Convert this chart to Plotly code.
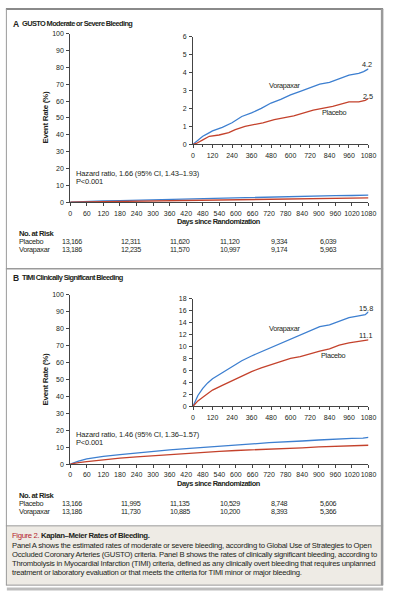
import plotly.graph_objects as go

W, H = 395, 600
def px(x): return x / W
def py(y): return 1 - y / H

FONT = "Liberation Sans, Arial, sans-serif"
BLUE = "#3d7fd0"
RED = "#c4422c"
TXT = "#231f20"

# ---------------- data ----------------
gusto_days = [0, 30, 60, 90, 120, 180, 240, 300, 360, 420, 480, 540, 600, 660, 720, 780, 840, 900, 960, 1020, 1050, 1080]
gusto_vorapaxar = [0, 0.25, 0.45, 0.6, 0.75, 0.95, 1.2, 1.55, 1.75, 2.0, 2.3, 2.5, 2.75, 2.95, 3.15, 3.35, 3.45, 3.65, 3.85, 3.95, 4.05, 4.2]
gusto_placebo_days = [0, 20, 60, 100, 160, 220, 260, 320, 430, 500, 620, 740, 860, 960, 1020, 1060, 1080]
gusto_placebo = [0, 0.05, 0.25, 0.45, 0.52, 0.65, 0.82, 1.0, 1.2, 1.38, 1.58, 1.9, 2.12, 2.36, 2.37, 2.45, 2.55]

timi_days = [0, 15, 30, 60, 90, 120, 180, 240, 300, 360, 420, 480, 540, 600, 660, 720, 780, 840, 900, 960, 1020, 1060, 1080]
timi_vorapaxar = [0, 1.0, 1.8, 3.0, 3.9, 4.6, 5.6, 6.6, 7.6, 8.4, 9.1, 9.9, 10.6, 11.3, 11.9, 12.6, 13.3, 13.6, 14.2, 14.8, 15.1, 15.3, 15.8]
timi_placebo = [0, 0.5, 0.9, 1.5, 2.1, 2.7, 3.5, 4.3, 5.0, 5.8, 6.4, 6.9, 7.5, 8.0, 8.3, 8.8, 9.2, 9.6, 10.2, 10.6, 10.8, 10.95, 11.1]

gusto_end_labels = ["4.2", "2.5"]
timi_end_labels = ["15.8", "11.1"]

risk_placebo_a = ["13,166", "12,311", "11,620", "11,120", "9,334", "6,039"]
risk_vorapaxar_a = ["13,186", "12,235", "11,570", "10,997", "9,174", "5,963"]
risk_placebo_b = ["13,166", "11,995", "11,135", "10,529", "8,748", "5,606"]
risk_vorapaxar_b = ["13,186", "11,730", "10,885", "10,200", "8,393", "5,366"]

main_xticks = list(range(0, 1081, 60))
inset_xticks = list(range(0, 1081, 120))

fig = go.Figure()

X0, X1 = 70, 376
IX0 = 196

def add_lines(xa, ya, dv, v, dp, p):
    fig.add_trace(go.Scatter(x=dv, y=v, mode="lines", line=dict(color=BLUE, width=1.3),
                             xaxis=xa, yaxis=ya, showlegend=False, hoverinfo="skip"))
    fig.add_trace(go.Scatter(x=dp, y=p, mode="lines", line=dict(color=RED, width=1.3),
                             xaxis=xa, yaxis=ya, showlegend=False, hoverinfo="skip"))

add_lines("x", "y", gusto_days, gusto_vorapaxar, gusto_placebo_days, gusto_placebo)
add_lines("x2", "y2", gusto_days, gusto_vorapaxar, gusto_placebo_days, gusto_placebo)
add_lines("x3", "y3", timi_days, timi_vorapaxar, timi_days, timi_placebo)
add_lines("x4", "y4", timi_days, timi_vorapaxar, timi_days, timi_placebo)

axis_common = dict(showline=True, linecolor="#444", linewidth=1, ticks="outside", ticklen=3,
                   tickcolor="#444", tickwidth=1, showgrid=False, zeroline=False,
                   tickfont=dict(family=FONT, size=7, color=TXT), fixedrange=True)

layout = dict(
    width=W, height=H, margin=dict(l=0, r=0, t=0, b=0),
    paper_bgcolor="white", plot_bgcolor="rgba(0,0,0,0)",
    font=dict(family=FONT, color=TXT),
)

def setaxes(n, ptop, pbot, xticks, yr, dy, xlo):
    sx = "xaxis" if n == 1 else f"xaxis{n}"
    sy = "yaxis" if n == 1 else f"yaxis{n}"
    ax = f"x{'' if n == 1 else n}"
    ay = f"y{'' if n == 1 else n}"
    layout[sx] = dict(axis_common, domain=[px(xlo), px(X1)], range=[0, 1080], tickvals=xticks,
                      anchor=ay, tickangle=0, ticklabelstandoff=1)
    if len(xticks) < 12:
        layout[sx]["minor"] = dict(tickvals=list(range(60, 1080, 120)), ticks="outside", ticklen=2, tickcolor="#444")
    layout[sy] = dict(axis_common, domain=[py(pbot), py(ptop)], range=[0, yr], dtick=dy,
                      anchor=ax, ticklabelstandoff=1)

setaxes(1, 30, 200.5, main_xticks, 100, 10, X0)
setaxes(2, 33, 142, inset_xticks, 6, 1, IX0)
setaxes(3, 294, 465.5, main_xticks, 100, 10, X0)
setaxes(4, 298, 407, inset_xticks, 18, 2, IX0)

fig.update_layout(**layout)

ann = []
def text(x, y, s, size=8, xanchor="left", bold=False, color=TXT, angle=0, ref=None, ls=0.0):
    t = f"<b>{s}</b>" if bold else s
    if ls:
        t = f"<span style='letter-spacing:{ls}px'>{t}</span>"
    d = dict(text=t, showarrow=False, borderpad=0, borderwidth=0,
             font=dict(family=FONT, size=size, color=color), xanchor=xanchor, yanchor="middle",
             textangle=angle)
    if ref:
        d.update(xref=ref[0], yref=ref[1], x=x, y=y)
    else:
        d.update(xref="paper", yref="paper", x=px(x), y=py(y))
    ann.append(d)

# panel titles
text(11, 20, "A", size=8.5, bold=True)
text(21, 20, "GUSTO Moderate or Severe Bleeding", size=7.4, bold=True, ls=-0.6)
text(11, 277, "B", size=8.5, bold=True)
text(21, 277, "TIMI Clinically Significant Bleeding", size=7.4, bold=True, ls=-0.6)

# y titles
text(45, 115, "Event Rate (%)", size=8, bold=True, xanchor="center", angle=-90, ls=-0.3)
text(45, 380, "Event Rate (%)", size=8, bold=True, xanchor="center", angle=-90, ls=-0.3)

# x titles
text(223, 220, "Days since Randomization", size=7.4, bold=True, xanchor="center", ls=-0.45)
text(223, 485.5, "Days since Randomization", size=7.4, bold=True, xanchor="center", ls=-0.45)

# hazard ratios
text(76, 171.5, "Hazard ratio, 1.66 (95% CI, 1.43–1.93)", size=7.5, ls=-0.15)
text(76, 180, "P<0.001", size=7.5, ls=-0.15)
text(76, 435.5, "Hazard ratio, 1.46 (95% CI, 1.36–1.57)", size=7.5, ls=-0.15)
text(76, 444, "P<0.001", size=7.5, ls=-0.15)

# curve labels (data coordinates of insets)
text(560, 3.3, "Vorapaxar", size=7.3, xanchor="center", ref=("x2", "y2"), ls=-0.3)
text(870, 1.76, "Placebo", size=7.3, xanchor="center", ref=("x2", "y2"), ls=-0.3)
text(1068, 4.45, gusto_end_labels[0], size=7.3, xanchor="center", ref=("x2", "y2"))
text(1077, 2.68, gusto_end_labels[1], size=7.3, xanchor="center", ref=("x2", "y2"))
text(560, 13.0, "Vorapaxar", size=7.3, xanchor="center", ref=("x4", "y4"), ls=-0.3)
text(866, 8.47, "Placebo", size=7.3, xanchor="center", ref=("x4", "y4"), ls=-0.3)
text(1065, 16.3, timi_end_labels[0], size=7.3, xanchor="center", ref=("x4", "y4"))
text(1062, 11.77, timi_end_labels[1], size=7.3, xanchor="center", ref=("x4", "y4"))

# at risk tables
risk_cols = [62, 122, 172, 224, 276, 326]
for (ytop, pl, vo) in [(232.5, risk_placebo_a, risk_vorapaxar_a), (497.5, risk_placebo_b, risk_vorapaxar_b)]:
    text(17, ytop, "No. at Risk", size=7.6, bold=True, ls=-0.45)
    text(17, ytop + 8.3, "Placebo", size=7.3, ls=-0.3)
    text(17, ytop + 15.6, "Vorapaxar", size=7.3, ls=-0.3)
    for cx, a, b in zip(risk_cols, pl, vo):
        text(cx, ytop + 8.3, a, size=7.2, ls=-0.35)
        text(cx, ytop + 15.6, b, size=7.2, ls=-0.35)

# caption
ann.append(dict(xref="paper", yref="paper", x=px(10.5), y=py(537.5), xanchor="left", yanchor="middle",
                showarrow=False, borderpad=0, borderwidth=0, font=dict(family=FONT, size=7.8, color=TXT),
                text="<span style='letter-spacing:-0.4px'><span style='color:#b5272d'>Figure 2.</span> "
                     "<b>Kaplan–Meier Rates of Bleeding.</b></span>"))
cap_lines = [
    "Panel A shows the estimated rates of moderate or severe bleeding, according to Global Use of Strategies to Open",
    "Occluded Coronary Arteries (GUSTO) criteria. Panel B shows the rates of clinically significant bleeding, according to",
    "Thrombolysis in Myocardial Infarction (TIMI) criteria, defined as any clinically overt bleeding that requires unplanned",
    "treatment or laboratory evaluation or that meets the criteria for TIMI minor or major bleeding.",
]
for i, line in enumerate(cap_lines):
    text(10.5, 548.3 + i * 8.9, line, size=7.7, ls=-0.25)

fig.update_layout(annotations=ann)

# frame shapes
shapes = []
def rect(x0, y0, x1, y1, fill):
    shapes.append(dict(type="rect", xref="paper", yref="paper", x0=px(x0), x1=px(x1), y0=py(y1), y1=py(y0),
                       fillcolor=fill, line=dict(width=0), layer="below"))
def hline(x0, x1, y, color, w):
    shapes.append(dict(type="line", xref="paper", yref="paper", x0=px(x0), x1=px(x1), y0=py(y), y1=py(y),
                       line=dict(color=color, width=w), layer="below"))
def vline(x, y0, y1, color, w):
    shapes.append(dict(type="line", xref="paper", yref="paper", x0=px(x), x1=px(x), y0=py(y0), y1=py(y1),
                       line=dict(color=color, width=w), layer="below"))

rect(4.5, 528, 389.5, 588, "#eeebe5")
hline(4, 391, 5, "#8a8a8a", 2)
vline(4.5, 5, 588, "#9a9a9a", 1)
vline(390, 5, 588, "#9a9a9a", 2.5)
hline(4, 391, 268, "#9a9a9a", 1.5)
hline(4, 391, 528, "#9a9a9a", 1)
hline(4, 391, 588, "#9a9a9a", 1)
hline(5, 391, 592, "#bdbdbd", 3)
fig.update_layout(shapes=shapes)

fig.write_html("out.html", config={"displayModeBar": False, "staticPlot": True},
               post_script="document.body.style.margin='0';document.body.style.overflow='hidden';")
